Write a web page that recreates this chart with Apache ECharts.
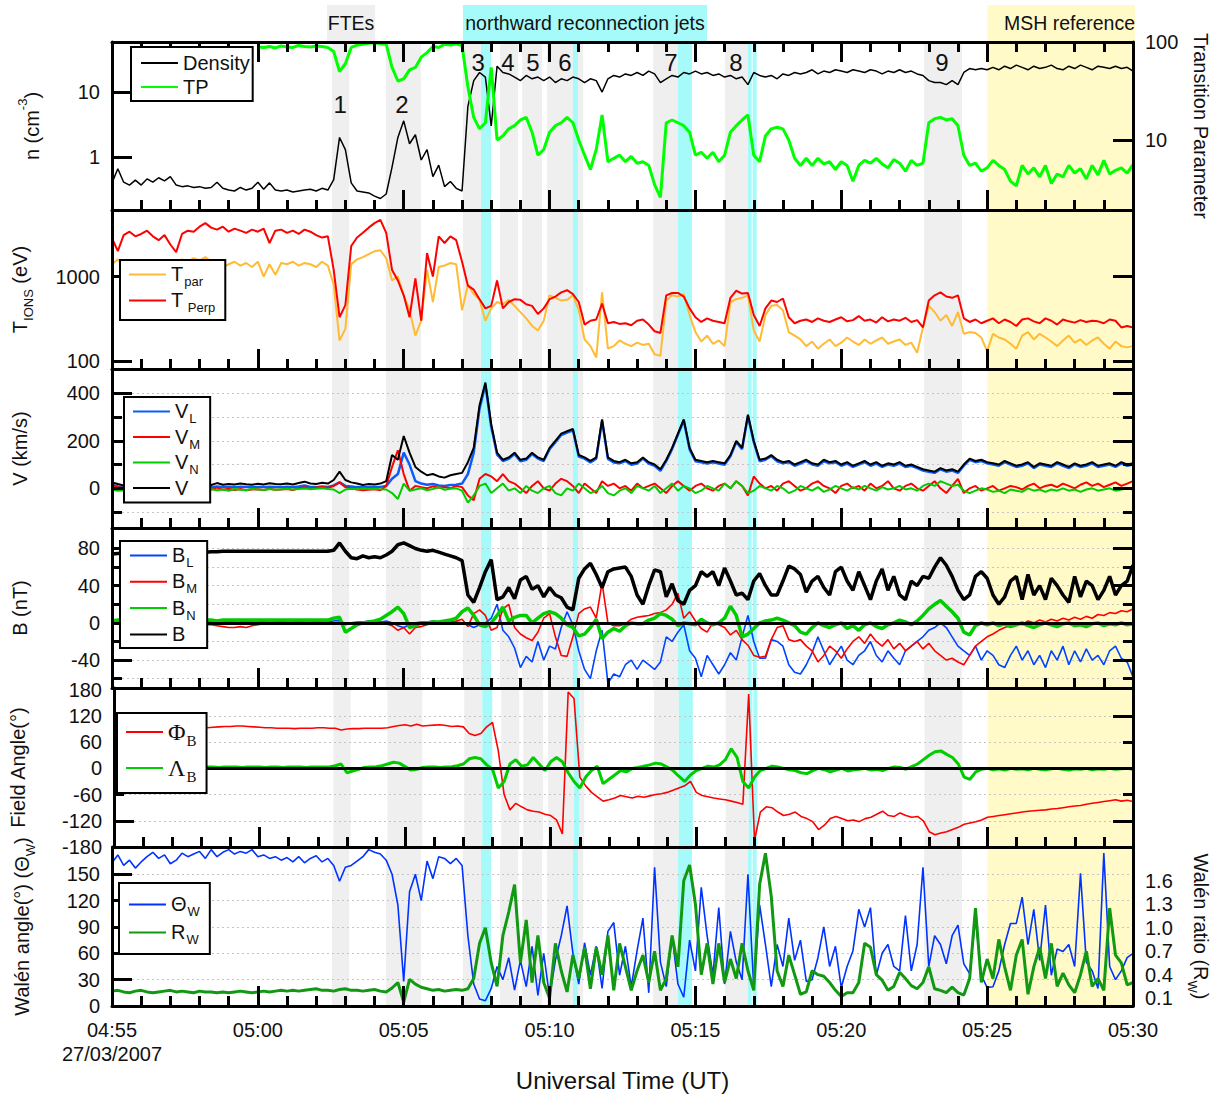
<!DOCTYPE html>
<html><head><meta charset="utf-8">
<script src="https://cdn.jsdelivr.net/npm/echarts@6/dist/echarts.min.js"></script>
<style>html,body{margin:0;padding:0;background:#fff}#c{width:1225px;height:1095px}</style>
</head><body><div id="c"></div>
<script>
const STEP = 0.2;
const xTickLabels = ['04:55\n27/03/2007','05:00','05:05','05:10','05:15','05:20','05:25','05:30'];

const density = [
0.40,0.66,0.41,0.37,0.44,0.37,0.46,0.41,0.48,0.43,
0.50,0.37,0.35,0.36,0.34,0.35,0.33,0.34,0.41,0.33,
0.31,0.30,0.34,0.31,0.33,0.41,0.32,0.40,0.31,0.30,
0.31,0.29,0.30,0.31,0.32,0.30,0.33,0.31,0.45,2.0,
1.3,0.40,0.30,0.29,0.28,0.25,0.23,0.27,0.70,2.0,
3.6,1.6,2.2,0.9,1.3,0.5,0.75,0.35,0.42,0.33,
0.30,6,15,20,17,3,25,20,19,17,
15,18,16,17,15,17,14,16,15,17,
16,14,16,15,10,16,18,17,19,18,
20,18,21,19,14,16,18,17,20,19,
21,19,20,18,19,17,18,16,17,13,
20,18,17,18,16,19,18,20,19,20,
22,19,21,20,22,21,20,22,21,20,
22,21,19,21,20,22,20,21,19,18,
15,14,14,13,15,13,20,23,22,23,
22,24,22,25,23,26,24,22,25,23,
24,26,23,22,25,23,26,24,22,25,
24,23,25,23,24,21];
const transitionParam = [
null,null,null,null,null,null,null,null,null,null,
null,null,null,null,null,null,null,null,null,null,
null,null,null,null,null,89,88,90,87,91,
89,88,92,90,89,91,90,88,80,50,
60,88,93,95,97,98,96,95,55,40,
42,52,55,70,78,90,88,95,93,96,
92,35,17,13,15,55,10,11,13,14,
16,17,12,7,8,12,14,15,17,15,
10,7,5,8,18,6,6.5,7,6,6.8,
5.8,6,5.5,3.5,2.6,15,16,15,14,12,
7,7.5,6.5,7.5,6,7,12,14,16,18,
7,6,11,13,13.5,13,10,6.5,5.5,6.5,
5.5,6.5,5.7,6,5,6,5.5,3.8,5.5,6.2,
5.8,6.5,5.7,5.2,6.3,5.8,4.8,6.2,5.5,5.8,
15,16.5,17,16,16.5,14,7,5.5,5.8,4.8,
5.2,6.2,5.5,5,3.8,3.4,5.5,4.5,5.2,4.2,
5.5,3.6,4.5,4.2,5.5,4.6,5.1,4,5.5,4.4,
6.2,4.5,4.9,5.2,4.6,5.6];

const tPerp = [
2850,2000,3100,3400,3000,3200,3500,3000,2700,3100,
2400,1950,3200,3500,3400,3900,4300,3800,3600,3900,
3400,3700,3500,3300,3600,3400,3700,2500,3500,3600,
3300,3500,3200,3600,3400,3100,2900,3000,1200,330,
460,2300,2900,3300,3800,4300,4700,3300,1200,900,
600,330,950,300,1900,1000,3000,2500,3000,2700,
1500,780,700,540,420,450,900,420,500,540,
530,470,450,360,420,540,580,650,690,620,
500,270,300,310,480,280,290,275,280,265,
300,310,270,225,215,600,640,640,580,420,
330,290,320,300,290,280,560,680,630,640,
350,260,420,520,500,550,330,280,300,310,
290,320,300,290,310,330,295,305,340,300,
310,285,330,295,310,300,325,290,305,250,
520,600,650,580,560,600,320,290,310,280,
300,320,280,310,290,260,310,320,295,280,
320,300,270,310,295,285,305,290,300,295,
280,310,300,250,260,250];
const tPar = [
1400,1600,1300,1500,1350,1550,1400,1450,1300,1500,
1250,1450,1600,1500,1650,1550,1700,1500,1450,1300,
1400,1500,1350,1450,1300,1500,1000,1400,1050,1450,
1400,1500,1350,1450,1400,1300,1500,1350,800,175,
240,1400,1600,1700,1850,2000,2050,1650,900,1000,
600,400,200,300,1200,500,1300,1350,1450,1400,
400,800,620,530,300,420,500,470,530,450,
380,320,260,230,300,600,560,520,530,600,
400,180,150,110,650,140,150,175,160,150,
165,155,160,120,115,520,600,580,620,350,
220,170,200,160,175,150,500,540,560,600,
230,170,350,450,460,400,220,200,180,150,
170,140,160,180,150,165,190,170,155,180,
160,175,190,160,170,180,155,165,125,250,
450,380,300,350,260,380,210,220,215,190,
130,210,190,180,160,140,200,220,180,210,
190,170,150,175,200,165,180,155,175,190,
160,140,170,150,145,150];

const vL = [
15,8,5,6,3,5,4,6,3,5,
4,6,5,4,7,5,6,4,8,5,
6,5,7,6,4,6,5,7,6,5,
7,5,8,12,6,5,8,6,12,25,
10,8,5,4,6,5,6,10,40,60,
150,100,30,20,15,18,12,10,14,15,
20,60,150,335,435,258,142,115,124,144,
114,120,144,125,115,164,194,224,234,244,
134,125,109,125,284,124,109,105,115,99,
104,125,104,95,74,114,165,225,285,164,
114,110,104,110,104,99,135,195,165,304,
194,114,120,135,114,105,110,95,104,115,
100,95,114,105,110,95,104,90,100,110,
95,104,90,100,95,104,90,95,85,75,
70,65,80,70,75,65,95,120,110,115,
105,100,95,110,100,90,95,105,85,100,
95,90,105,95,85,100,90,95,105,90,
95,100,90,105,95,100];
const vM = [
15,5,2,8,0,5,2,6,-2,4,
0,6,3,5,-3,2,0,-5,3,-6,
-2,-7,-3,-8,-5,-4,-7,-2,-6,-5,
-3,-7,0,5,-2,3,6,2,10,25,
5,0,-5,-8,-6,-4,-8,10,90,160,
60,-10,10,5,0,8,2,5,0,10,
5,-30,-50,40,60,50,30,60,30,20,
0,-20,10,30,0,-10,20,40,30,10,
-20,20,0,-20,30,10,20,0,10,-10,
20,0,10,20,0,-20,10,30,10,-10,
10,20,0,-10,10,20,0,30,10,-30,
50,20,0,10,-10,20,30,10,-10,0,
20,30,10,0,-20,10,20,0,10,-10,
20,0,10,30,0,-10,10,20,0,-10,
10,30,0,-20,10,40,-20,0,10,-10,
0,10,-10,0,10,5,-5,10,20,0,
10,15,5,20,10,0,15,25,10,20,
5,15,25,10,20,30];
const vN = [
-5,-10,-8,-12,-6,-15,-8,-5,-10,-4,
-12,-5,-8,-3,-10,-6,-12,-4,-8,-5,
-10,-3,-6,-8,-2,-5,-7,-3,-6,-4,
-2,-5,-3,-1,-4,-2,0,-3,-5,-20,
-5,-2,-4,-1,-3,-2,-4,-5,-20,-45,
20,-10,-5,0,-8,-3,5,-6,-2,0,
-10,-60,-30,10,20,-20,0,20,-10,0,
-20,10,-10,-20,0,10,-20,-30,0,-10,
20,0,-20,-10,10,-20,-30,-10,0,-20,
10,0,-10,10,-20,0,20,-10,10,0,
-20,-10,10,0,-10,20,0,30,10,-20,
-10,10,0,-10,10,0,-20,-10,10,0,
-10,5,-15,-5,10,0,-10,5,-5,10,
0,-10,5,-5,0,10,-5,0,-10,10,
20,10,30,20,10,15,-10,-20,-10,0,
-5,-15,-10,-20,-5,-10,-15,0,-10,-5,
-15,-5,-10,0,-10,-5,-15,-5,0,-10,
-5,0,-10,-5,0,-5];
const vTot = [
25,18,12,15,10,14,12,16,10,14,
12,18,14,16,20,15,17,14,22,15,
18,16,20,17,15,19,16,21,18,17,
20,16,22,28,20,18,23,20,35,70,
35,25,20,14,18,16,20,30,140,120,
220,150,90,70,55,60,50,45,55,60,
65,110,170,350,445,270,150,120,130,150,
120,125,150,130,120,170,200,230,240,250,
140,130,115,130,290,130,115,110,120,105,
110,130,110,100,80,120,170,230,290,170,
120,115,110,115,110,105,140,200,170,310,
200,120,125,140,120,110,115,100,110,120,
105,100,120,110,115,100,110,95,105,115,
100,110,95,105,100,110,95,100,90,80,
75,70,85,75,80,70,100,125,115,120,
110,105,100,115,105,95,100,110,90,105,
100,95,110,100,90,105,95,100,110,95,
100,105,95,110,100,105];

const bL = [
1,1,2,1,1,2,1,1,2,1,
1,2,1,1,2,1,1,2,1,1,
2,1,1,2,1,1,2,1,1,2,
1,1,2,1,1,2,1,1,2,3,
-2,0,1,1,2,1,1,2,0,-3,
-5,-2,0,1,1,2,1,1,2,1,
0,-2,-5,-2,0,5,20,-8,-15,-27,
-48,-36,-42,-20,-40,-25,-28,-5,12,-2,
-30,-50,-60,-30,-8,-65,-55,-58,-45,-40,
-50,-40,-45,-50,-42,-15,-20,-10,-2,-30,
-38,-58,-35,-45,-55,-45,-32,-40,-15,8,
-20,-38,-38,-18,-20,-25,-45,-53,-55,-45,
-32,-15,-30,-45,-35,-25,-40,-45,-35,-30,
-20,-35,-42,-30,-38,-45,-30,-25,-20,-15,
-8,-5,0,-5,-15,-25,-30,-35,-25,-40,
-30,-35,-45,-48,-35,-25,-40,-30,-45,-35,
-48,-30,-40,-25,-45,-30,-42,-28,-40,-35,
-45,-30,-25,-38,-42,-58];
const bM = [
-1,0,1,0,1,2,1,0,1,1,
0,-1,0,1,0,-1,-2,-2,-3,-4,
-5,-5,-4,-5,-3,-2,-1,0,1,0,
-1,0,1,0,-1,0,0,1,0,1,
0,-1,0,1,0,0,1,-1,-3,-8,
-5,-12,-5,-4,-2,0,1,1,0,2,
4,-4,10,14,8,-8,-5,15,20,-5,
-12,-16,-19,-10,5,10,-15,-35,-36,-15,
10,15,17,5,43,0,-3,-3,-1,4,
6,7,8,10,11,14,20,32,5,12,
2,-6,-10,0,-2,-5,-13,-8,-18,-24,
-35,-37,-36,-18,-5,-3,-18,-20,-18,-25,
-30,-42,-35,-25,-30,-38,-28,-20,-15,-22,
-12,-20,-25,-18,-28,-22,-30,-25,-20,-28,
-22,-30,-35,-40,-38,-42,-45,-35,-25,-20,
-15,-12,-8,-5,-3,0,-2,2,0,3,
1,4,2,5,3,6,4,7,5,9,
8,11,10,13,12,15];
const bN = [
2,3,3,2,3,3,3,2,3,3,
3,3,2,3,3,3,3,3,2,3,
3,3,3,3,3,3,3,3,3,3,
3,3,3,3,3,3,3,3,5,6,
-10,-6,-2,0,1,2,4,8,12,17,
10,-5,-3,0,0,1,1,2,3,5,
12,16,8,-2,-4,0,8,17,2,6,
8,8,0,5,10,12,10,5,-2,-5,
-14,-12,-5,4,-17,-10,-6,-9,-3,0,
-1,-1,3,5,10,8,4,-3,0,-1,
-2,4,0,-2,0,5,18,8,-15,-12,
-6,0,2,3,5,3,0,-3,-10,-12,
-5,0,-3,-5,-2,0,-6,-3,-8,-2,
0,-4,-6,-2,0,3,1,-2,2,8,
15,20,24,18,12,5,-10,-13,-3,0,
-2,0,-3,-1,-4,-2,0,-3,-5,-2,
0,-2,-4,-1,0,-3,-2,-4,-1,0,
-3,-1,-2,0,-2,-1];
const bTot = [
74,74.5,75,75,75,75,75,75,75,75,
75,75,75,75,75,75.5,76,76.5,76.5,77,
77,77,77,77,77,77,77,77,77,77,
77,77,77,77,77,77,77,77,78,86,
77,70,69,72,70,71,70,73,77,84,
86,83,80,78,77,78,76,74,72,70,
67,30,22,38,55,68,25,28,38,26,
46,50,36,40,28,38,30,27,17,14,
48,58,64,52,38,55,58,59,60,50,
30,20,40,57,55,28,42,24,20,35,
40,55,50,55,40,59,45,30,32,25,
45,53,40,30,30,45,61,58,52,33,
45,50,38,30,55,60,45,35,55,40,
25,45,58,35,50,30,25,45,40,50,
48,60,70,62,50,35,25,30,50,55,
48,30,20,28,45,50,25,52,30,40,
25,48,40,30,22,50,28,45,40,25,
35,50,30,40,45,62];

const phiB = [
88,89,90,90,91,90,91,92,91,92,
93,92,93,92,91,92,93,94,95,96,
96,97,97,96,95,94,93,93,92,92,
92,91,92,92,92,93,93,92,92,88,
90,91,91,92,92,92,92,93,96,98,
100,97,101,97,98,99,100,98,96,97,
95,80,75,80,95,105,40,-60,-95,-80,
-88,-95,-98,-100,-105,-108,-118,-150,175,160,
-20,-40,-55,-65,-75,-72,-68,-62,-65,-68,
-64,-66,-63,-60,-58,-55,-50,-45,-40,-30,
-55,-62,-65,-68,-70,-72,-75,-78,-82,170,
-165,-100,-88,-90,-100,-108,-105,-100,-110,-115,
-122,-140,-130,-115,-110,-115,-120,-118,-122,-115,
-112,-105,-98,-108,-110,-102,-108,-112,-110,-120,
-145,-152,-148,-145,-140,-135,-128,-125,-122,-118,
-112,-110,-108,-106,-104,-102,-100,-98,-97,-96,
-95,-93,-92,-90,-88,-86,-85,-82,-80,-78,
-76,-74,-72,-75,-73,-76];
const lambdaB = [
3,2,3,3,2,3,2,3,3,2,
3,2,3,3,3,2,3,3,2,3,
3,3,2,3,3,3,2,3,3,2,
3,3,3,2,3,3,3,3,6,10,
-10,-6,-2,2,3,4,6,10,14,12,
4,-4,-2,2,3,3,2,3,4,6,
10,22,25,22,8,-2,-45,-30,10,20,
5,8,25,10,-5,15,25,15,-10,-30,
-45,-20,-5,5,-35,-25,-15,-5,-8,0,
2,5,8,12,10,3,-5,-18,-30,-15,
-5,0,5,3,8,20,45,25,-30,-45,
-20,-5,0,5,3,0,-3,-5,-10,-12,
-5,0,-3,-8,-4,0,-6,-3,-2,0,
-4,-2,-5,0,3,2,-2,4,10,20,
30,38,40,32,25,10,-20,-25,-8,-2,
0,-3,-1,-4,0,-2,-1,-3,0,-2,
-3,-1,0,-2,-4,-1,-2,0,-3,-1,
-2,0,-2,-1,0,-2];

const thetaW = [
163,172,160,166,157,164,170,175,168,172,
162,166,174,170,173,176,168,178,170,175,
178,173,176,174,178,170,172,168,170,166,
169,164,170,163,168,171,164,168,160,142,
158,160,165,170,178,175,173,166,150,115,
28,130,150,120,165,145,170,168,162,168,
160,80,25,8,6,20,45,30,55,18,
52,22,68,12,60,10,52,80,114,60,
25,72,35,68,20,85,95,35,68,22,
63,100,15,158,50,22,80,25,10,75,
40,135,80,35,112,25,85,50,30,150,
20,115,70,22,70,45,100,52,75,28,
30,55,90,45,68,21,45,63,110,90,
112,35,60,70,45,40,103,40,70,158,
45,80,70,48,80,92,48,37,100,35,
21,22,40,70,94,94,124,70,110,52,
115,35,65,62,70,45,151,50,40,20,
174,45,30,40,55,60];
const walenRatio = [
0.19,0.20,0.18,0.17,0.19,0.20,0.18,0.17,0.18,0.19,
0.20,0.18,0.19,0.18,0.17,0.19,0.18,0.18,0.17,0.18,
0.17,0.18,0.19,0.18,0.17,0.18,0.19,0.18,0.19,0.20,
0.19,0.20,0.19,0.20,0.21,0.22,0.20,0.20,0.19,0.21,
0.22,0.20,0.20,0.19,0.20,0.21,0.19,0.18,0.23,0.30,
0.05,0.34,0.28,0.24,0.22,0.20,0.21,0.19,0.20,0.21,
0.20,0.22,0.35,0.80,1.00,0.55,0.25,0.90,1.20,1.55,
0.55,1.10,0.30,0.90,0.30,0.10,0.80,0.45,0.18,0.65,
0.35,0.75,0.22,0.75,0.40,0.90,0.20,0.80,0.50,0.20,
0.45,0.65,0.30,0.70,0.20,0.35,0.90,0.50,1.60,1.80,
1.30,0.40,0.80,0.28,0.80,0.30,0.60,0.35,0.80,0.45,
0.20,1.55,1.95,1.40,0.45,0.25,0.65,0.40,0.15,0.18,
0.45,0.40,0.38,0.30,0.20,0.12,0.17,0.17,0.30,0.80,
0.75,0.40,0.33,0.20,0.25,0.43,0.35,0.26,0.22,0.30,
0.50,0.22,0.20,0.17,0.24,0.17,0.14,0.35,1.25,0.30,
0.60,0.35,0.85,0.50,0.20,0.65,0.85,0.15,0.50,0.75,
0.35,0.80,0.25,0.42,0.27,0.17,0.40,0.70,0.25,0.35,
0.20,1.25,0.65,0.55,0.27,0.30];

const grayBands = [[7.54,8.13],[9.39,10.59],[12.03,12.65],[13.30,13.92],[14.06,14.74],[14.91,15.80],[15.97,16.15],[18.55,19.40],[21.01,21.80],[27.84,29.14]];
const cyanBands = [[12.65,12.99],[15.80,15.97],[19.40,19.88],[21.80,21.93],[21.96,22.10]];
const mshBands = [[30.01,35]];
const headerBoxes = [
  {t0:7.37, t1:9.02, text:'FTEs', kind:'gray', align:'center'},
  {t0:12.03, t1:20.40, text:'northward reconnection jets', kind:'cyan', align:'center'},
  {t0:30.01, t1:35.07, text:'MSH reference', kind:'yellow', align:'right'}];
const eventLabels = [['1',7.82,'low'],['2',9.94,'low'],['3',12.55,'high'],['4',13.57,'high'],['5',14.43,'high'],['6',15.53,'high'],['7',19.16,'high'],['8',21.39,'high'],['9',28.45,'high']];

const xTickMinutes = Array.from({length: 36}, (_, m) => m);
const yTickSpec = [
  // [yAxisIndex, gridIndex, side, major, minor]
  [0, 0, 'left', [1, 10], []],
  [1, 0, 'right', [10, 100], []],
  [2, 1, 'left', [100, 1000], []],
  [3, 1, 'right', [100, 1000], []],
  [4, 2, 'left', [0, 200, 400], [-100, 100, 300]],
  [4, 2, 'right', [0, 200, 400], [-100, 100, 300]],
  [7, 3, 'left', [-40, 0, 40, 80], [-60, -20, 20, 60]],
  [7, 3, 'right', [-40, 0, 40, 80], [-60, -20, 20, 60]],
  [10, 4, 'left', [-120, 0, 120], [-60, 60]],
  [10, 4, 'right', [-120, 0, 120], [-60, 60]],
  [13, 5, 'left', [30, 60, 90, 120, 150], []]
];

const FONT = '"Liberation Sans", Arial, Helvetica, sans-serif';
const SERIF = '"Liberation Serif", "DejaVu Serif", serif';
const BLACK = '#000';
const TXT = '#111';
const BAND = {gray:'#efefef', cyan:'#a6fafa', yellow:'#fffac8'};
const TICK_MAJOR = 20, TICK_MINOR = 10, TICK_W = 3;
const PLOT_W = 1021;
const toXY = arr => arr.map((v, i) => [Math.round(i * STEP * 100) / 100, v]);

const RICH = {
  m: {fontFamily: FONT, fontSize: 20, lineHeight: 21, verticalAlign: 'top', color: TXT},
  s: {fontFamily: FONT, fontSize: 13, lineHeight: 14, verticalAlign: 'top', padding: [11, 0, 0, 1], color: TXT},
  g: {fontFamily: SERIF, fontSize: 24, lineHeight: 24, verticalAlign: 'top', color: TXT},
  gs: {fontFamily: SERIF, fontSize: 15, lineHeight: 15, verticalAlign: 'top', padding: [13, 0, 0, 1], color: TXT},
  a: {fontFamily: FONT, fontSize: 20, lineHeight: 20, verticalAlign: 'top', padding: [6, 0, 0, 0], color: TXT},
  sup: {fontFamily: FONT, fontSize: 13, lineHeight: 13, verticalAlign: 'top', color: TXT},
  b: {fontFamily: FONT, fontSize: 20, lineHeight: 20, verticalAlign: 'top', color: TXT},
  sub: {fontFamily: FONT, fontSize: 13, lineHeight: 13, verticalAlign: 'top', padding: [12, 0, 0, 0], color: TXT}
};
const LEGEND_TEXT = {
  Density: 'Density', TP: 'TP',
  Tpar: '{m|T}{s|par}', Tperp: '{m|T}{s| Perp}',
  VL: '{m|V}{s|L}', VM: '{m|V}{s|M}', VN: '{m|V}{s|N}', V: '{m|V}',
  BL: '{m|B}{s|L}', BM: '{m|B}{s|M}', BN: '{m|B}{s|N}', B: '{m|B}',
  PhiB: '{g|Φ}{gs|B}', LambdaB: '{g|Λ}{gs|B}',
  ThetaW: '{m|Θ}{s|W}', RW: '{m|R}{s|W}'
};

const GRID_TOP = [42, 210, 369, 528, 688, 847];
const GRID_H = [168, 159, 159, 160, 159, 159];
const grids = GRID_TOP.map((t, i) => ({left: 112, width: PLOT_W, top: t, height: GRID_H[i], show: false}));

function xAx(grid, pos, showLabel) {
  return {
    type: 'value', gridIndex: grid, position: pos, min: 0, max: 35, interval: 5, z: 10,
    axisLine: {show: true, onZero: false, lineStyle: {color: BLACK, width: 3}},
    axisTick: {show: true, inside: true, length: TICK_MAJOR, lineStyle: {color: BLACK, width: TICK_W}},
    minorTick: {show: true, splitNumber: 5, length: TICK_MINOR, lineStyle: {color: BLACK, width: TICK_W}},
    splitLine: {show: false}, minorSplitLine: {show: false},
    axisLabel: {show: showLabel, formatter: v => xTickLabels[Math.round(v / 5)], fontFamily: FONT, fontSize: 20, color: TXT, margin: 12, lineHeight: 24},
    name: showLabel ? 'Universal Time (UT)' : '', nameLocation: 'middle', nameGap: 62,
    nameTextStyle: {fontFamily: FONT, fontSize: 24, color: TXT}
  };
}
function yAx(o) {
  const ax = {
    type: o.type || 'value', gridIndex: o.grid, position: o.pos || 'left', min: o.min, max: o.max, z: o.z || 10,
    axisLine: {show: o.line !== false, onZero: false, lineStyle: {color: BLACK, width: 3}},
    axisTick: {show: false},
    axisLabel: o.labels ? {show: true, customValues: o.labels, fontFamily: FONT, fontSize: 20, color: TXT, margin: 12, formatter: o.fmt || (v => String(v))} : {show: false},
    splitLine: o.gridVals ? {show: true, lineStyle: {color: '#c4c4c4', type: [2, 3], width: 1}} : {show: false},
    minorTick: {show: false}, minorSplitLine: {show: false},
    name: o.name || '', nameLocation: 'middle', nameRotate: o.pos === 'right' ? -90 : 90, nameGap: o.nameGap || 80,
    nameTextStyle: {fontFamily: FONT, fontSize: 20, color: TXT, rich: RICH}
  };
  if (o.gridVals) ax.axisTick.customValues = o.gridVals;
  return ax;
}

const xAxes = [0,1,2,3,4,5].map(g => xAx(g, 'bottom', g === 5));
xAxes.push(xAx(0, 'top', false));

const yAxes = [
  yAx({grid:0, type:'log', min:0.153, max:58.9, labels:[1,10], name:'{a|n (cm}{sup|-3}{a|)}', nameGap:76}),
  yAx({grid:0, type:'log', pos:'right', min:1.93, max:100, labels:[10,100], name:'Transition Parameter', nameGap:58}),
  yAx({grid:1, type:'log', min:80.4, max:6150, labels:[100,1000], name:'{b|T}{sub|IONS}{b| (eV)}', nameGap:82}),
  yAx({grid:1, type:'log', pos:'right', min:80.4, max:6150}),
  yAx({grid:2, min:-167, max:502, labels:[0,200,400], name:'V (km/s)', nameGap:82}),
  yAx({grid:2, min:-167, max:502, gridVals:[-100,100,200,300,400], line:false, z:2}),
  yAx({grid:2, pos:'right', min:-167, max:502}),
  yAx({grid:3, min:-70, max:102, labels:[-40,0,40,80], name:'B (nT)', nameGap:82}),
  yAx({grid:3, min:-70, max:102, gridVals:[-60,-40,-20,20,40,60,80], line:false, z:2}),
  yAx({grid:3, pos:'right', min:-70, max:102}),
  yAx({grid:4, min:-180, max:184, labels:[-180,-120,-60,0,60,120,180], name:'Field Angle(°)', nameGap:86}),
  yAx({grid:4, min:-180, max:184, gridVals:[-120,-60,60,120], line:false, z:2}),
  yAx({grid:4, pos:'right', min:-180, max:184}),
  yAx({grid:5, min:0, max:181, labels:[0,30,60,90,120,150], name:'Walén angle(°) ({b|Θ}{sub|W}{b|)}', nameGap:80}),
  yAx({grid:5, min:0, max:181, gridVals:[30,60,90,120,150], line:false, z:2}),
  yAx({grid:5, pos:'right', min:0, max:2.03, labels:[0.1,0.4,0.7,1.0,1.3,1.6], fmt: v => v.toFixed(1), name:'Walén ratio ({b|R}{sub|W}{b|)}', nameGap:58})
];
const LEFT_Y = [0, 2, 4, 7, 10, 13];

function line(name, xi, yi, arr, color, width) {
  return {type: 'line', name, xAxisIndex: xi, yAxisIndex: yi, data: toXY(arr), symbol: 'none',
    lineStyle: {color, width}, itemStyle: {color}, z: 3, silent: true, animation: false};
}
const bandData = [];
mshBands.forEach(b => bandData.push([{xAxis: b[0], itemStyle: {color: BAND.yellow}}, {xAxis: b[1]}]));
grayBands.forEach(b => bandData.push([{xAxis: b[0], itemStyle: {color: BAND.gray}}, {xAxis: b[1]}]));
cyanBands.forEach(b => bandData.push([{xAxis: b[0], itemStyle: {color: BAND.cyan}}, {xAxis: b[1]}]));

const series = [];
for (let g = 0; g < 6; g++) {
  series.push({type: 'line', name: 'bands' + g, xAxisIndex: g, yAxisIndex: LEFT_Y[g], data: [], z: 1, silent: true,
    markArea: {silent: true, data: bandData}});
}
series.push(
  line('Density', 0, 0, density, '#000000', 1.5),
  line('TP', 0, 1, transitionParam, '#00ff00', 3),
  line('Tpar', 1, 2, tPar, '#ffbb33', 2),
  line('Tperp', 1, 2, tPerp, '#ff0000', 2),
  line('VL', 2, 4, vL, '#0a5cff', 2.5),
  line('VM', 2, 4, vM, '#ff0000', 2),
  line('VN', 2, 4, vN, '#00cc00', 2),
  line('V', 2, 4, vTot, '#000000', 2),
  line('BL', 3, 7, bL, '#0044ff', 1.6),
  line('BM', 3, 7, bM, '#ff0000', 1.6),
  line('BN', 3, 7, bN, '#00cc00', 3.5),
  line('B', 3, 7, bTot, '#000000', 3.5),
  line('PhiB', 4, 10, phiB, '#ff0000', 1.6),
  line('LambdaB', 4, 10, lambdaB, '#00cc00', 3),
  line('ThetaW', 5, 13, thetaW, '#0033ff', 1.6),
  line('RW', 5, 15, walenRatio, '#119911', 3)
);
[[3, 7], [4, 10]].forEach(([xi, yi]) => series.push({type: 'line', name: 'zero' + xi, xAxisIndex: xi, yAxisIndex: yi, data: [], z: 4, silent: true,
  markLine: {silent: true, symbol: ['none', 'none'], label: {show: false}, lineStyle: {color: '#000', width: 3, type: 'solid'}, data: [{yAxis: 0}]}}));

// ---- inward tick marks as marker segments in each axis' own units ----
function offsetValue(ax, heightPx, fromMin, px) {
  const f = px / heightPx;
  if (ax.type === 'log') {
    const r = Math.pow(ax.max / ax.min, f);
    return fromMin ? ax.min * r : ax.max / r;
  }
  const d = (ax.max - ax.min) * f;
  return fromMin ? ax.min + d : ax.max - d;
}
const tickLineStyle = {color: BLACK, width: TICK_W, type: 'solid', opacity: 1};
for (let g = 0; g < 6; g++) {
  const yi = LEFT_Y[g], ax = yAxes[yi], H = GRID_H[g];
  const segs = [];
  xTickMinutes.forEach(m => {
    const len = m % 5 === 0 ? TICK_MAJOR : TICK_MINOR;
    segs.push([{coord: [m, ax.min]}, {coord: [m, offsetValue(ax, H, true, len)]}]);
    if (g === 0) segs.push([{coord: [m, ax.max]}, {coord: [m, offsetValue(ax, H, false, len)]}]);
  });
  series.push({type: 'line', name: 'xticks' + g, xAxisIndex: g, yAxisIndex: yi, data: [], z: 12, silent: true,
    markLine: {silent: true, symbol: ['none', 'none'], label: {show: false}, lineStyle: tickLineStyle, emphasis: {disabled: true}, data: segs}});
}
yTickSpec.forEach(([yi, g, side, major, minor], k) => {
  const segs = [];
  [[major, TICK_MAJOR], [minor, TICK_MINOR]].forEach(([vals, len]) => vals.forEach(v => {
    const dx = 35 * len / PLOT_W;
    if (side === 'left') segs.push([{coord: [0, v]}, {coord: [dx, v]}]);
    else segs.push([{coord: [35 - dx, v]}, {coord: [35, v]}]);
  }));
  series.push({type: 'line', name: 'yticks' + k, xAxisIndex: g, yAxisIndex: yi, data: [], z: 12, silent: true,
    markLine: {silent: true, symbol: ['none', 'none'], label: {show: false}, lineStyle: tickLineStyle, emphasis: {disabled: true}, data: segs}});
});

function legend(names, left, top, padding, gap, lh) {
  return {data: names, orient: 'vertical', left, top, padding, itemGap: gap, itemWidth: 37, itemHeight: 14,
    backgroundColor: '#fff', borderColor: '#000', borderWidth: 2, z: 20, selectedMode: false,
    itemStyle: {opacity: 0},
    formatter: n => LEGEND_TEXT[n],
    textStyle: {fontFamily: FONT, fontSize: 20, color: TXT, lineHeight: lh, rich: RICH}};
}
const legends = [
  legend(['Density', 'TP'], 131, 47, [5, 3, 3, 9], 2, 22),
  legend(['Tpar', 'Tperp'], 120, 260, [4, 10, 6, 8], 2, 25),
  legend(['VL', 'VM', 'VN', 'V'], 124, 397, [4, 10, 4, 8], 1.5, 25),
  legend(['BL', 'BM', 'BN', 'B'], 120, 541, [4, 10, 3, 9], 2.3, 25),
  legend(['PhiB', 'LambdaB'], 117, 713, [7, 10, 9, 8], 8, 28),
  legend(['ThetaW', 'RW'], 119, 883, [11, 10, 8, 9], 4, 25)
];

const chart = echarts.init(document.getElementById('c'), null, {renderer: 'svg'});
chart.setOption({
  animation: false, backgroundColor: '#fff',
  textStyle: {fontFamily: FONT},
  grid: grids, xAxis: xAxes, yAxis: yAxes, legend: legends, series
});

const pxX = (g, t) => chart.convertToPixel({xAxisIndex: g}, t);
const gfx = [];
headerBoxes.forEach(h => {
  const x0 = pxX(0, h.t0), x1 = pxX(0, h.t1);
  gfx.push({type: 'rect', shape: {x: x0, y: 5, width: x1 - x0, height: 36}, style: {fill: BAND[h.kind]}, z: 0, silent: true});
  const tx = h.align === 'right' ? x1 : (x0 + x1) / 2;
  gfx.push({type: 'text', x: tx, y: 23, style: {text: h.text, align: h.align, verticalAlign: 'middle', font: '19.5px ' + FONT, fill: TXT}, z: 5, silent: true});
});
eventLabels.forEach(([txt, t, row]) => {
  gfx.push({type: 'text', x: pxX(0, t), y: row === 'low' ? 104 : 62, style: {text: txt, align: 'center', verticalAlign: 'middle', font: '24px ' + FONT, fill: TXT}, z: 30, silent: true});
});
chart.setOption({graphic: gfx});
</script>
</body></html>
